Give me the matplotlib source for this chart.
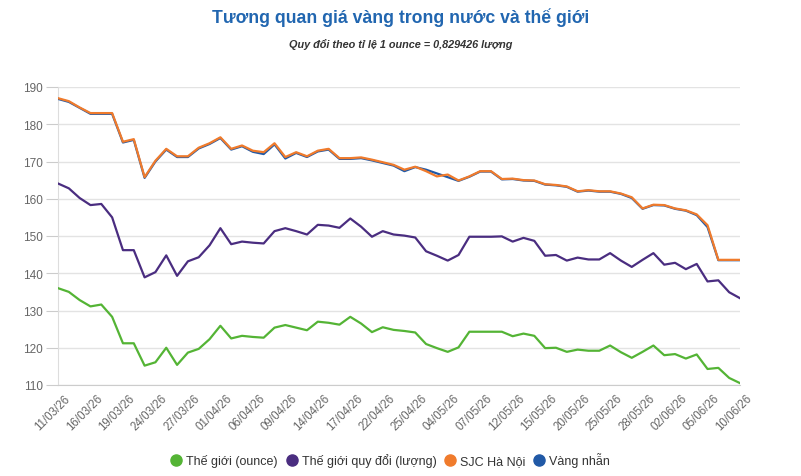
import matplotlib
matplotlib.use("Agg")
import matplotlib.pyplot as plt
from matplotlib.lines import Line2D
import matplotlib.transforms as mtransforms

plt.rcParams['font.family'] = ['Liberation Sans', 'DejaVu Sans']

tick_labels = ["11/03/26", "16/03/26", "19/03/26", "24/03/26", "27/03/26", "01/04/26",
               "06/04/26", "09/04/26", "14/04/26", "17/04/26", "22/04/26", "25/04/26",
               "04/05/26", "07/05/26", "12/05/26", "15/05/26", "20/05/26", "25/05/26",
               "28/05/26", "02/06/26", "05/06/26", "10/06/26"]

the_gioi = [136.0, 135.0, 132.8, 131.1, 131.6, 128.3, 121.2, 121.2, 115.2, 116.1,
            120.0, 115.4, 118.7, 119.7, 122.3, 125.9, 122.5, 123.2, 122.9, 122.7,
            125.4, 126.1, 125.4, 124.7, 127.0, 126.7, 126.2, 128.3, 126.5, 124.2,
            125.5, 124.8, 124.5, 124.1, 121.0, 119.9, 118.9, 120.1, 124.3, 124.3,
            124.3, 124.3, 123.1, 123.8, 123.2, 119.9, 120.0, 118.9, 119.5, 119.2,
            119.2, 120.6, 118.8, 117.3, 118.9, 120.6, 118.0, 118.3, 117.1, 118.2,
            114.3, 114.6, 111.9, 110.5]

the_gioi_quy_doi = [164.1, 162.8, 160.2, 158.3, 158.6, 155.0, 146.2, 146.2, 138.9, 140.3,
                    144.8, 139.3, 143.2, 144.3, 147.5, 152.1, 147.8, 148.5, 148.2, 148.0,
                    151.3, 152.1, 151.3, 150.4, 153.0, 152.8, 152.2, 154.7, 152.5, 149.8,
                    151.3, 150.4, 150.1, 149.6, 145.9, 144.7, 143.4, 144.9, 149.8, 149.8,
                    149.8, 149.9, 148.5, 149.5, 148.7, 144.7, 144.9, 143.4, 144.2, 143.7,
                    143.7, 145.4, 143.4, 141.7, 143.6, 145.4, 142.3, 142.8, 141.1, 142.5,
                    137.8, 138.1, 134.9, 133.3]

sjc_ha_noi = [187.0, 186.2, 184.5, 183.0, 183.0, 183.0, 175.3, 176.0, 165.8, 170.2,
              173.4, 171.4, 171.4, 173.7, 174.9, 176.5, 173.4, 174.3, 172.9, 172.5,
              174.9, 171.2, 172.5, 171.4, 172.9, 173.4, 170.9, 170.9, 171.1, 170.5,
              169.8, 169.1, 167.8, 168.6, 167.4, 166.0, 166.5, 164.9, 166.0, 167.4,
              167.4, 165.3, 165.4, 165.0, 164.9, 163.9, 163.7, 163.3, 162.0, 162.3,
              162.0, 162.0, 161.4, 160.4, 157.4, 158.4, 158.3, 157.4, 156.9, 155.8,
              152.9, 143.6, 143.6, 143.6]

vang_nhan = [186.8, 186.0, 184.4, 182.8, 182.8, 182.8, 175.1, 175.8, 165.6, 170.0,
             173.2, 171.2, 171.2, 173.5, 174.7, 176.3, 173.2, 174.1, 172.6, 172.0,
             174.6, 170.8, 172.3, 171.2, 172.7, 173.2, 170.7, 170.7, 170.9, 170.3,
             169.6, 168.9, 167.4, 168.5, 167.8, 166.8, 165.8, 164.8, 165.9, 167.3,
             167.3, 165.2, 165.3, 164.9, 164.8, 163.8, 163.6, 163.2, 161.9, 162.2,
             161.9, 161.9, 161.3, 160.2, 157.3, 158.3, 158.2, 157.3, 156.8, 155.6,
             152.4, 143.5, 143.5, 143.5]

series_names = ["Thế giới (ounce)", "Thế giới quy đổi (lượng)", "SJC Hà Nội", "Vàng nhẫn"]
colors = ["#54b435", "#4a2d80", "#f07b2c", "#2159a6"]

W, H = 801, 477
fig = plt.figure(figsize=(W / 100, H / 100), dpi=100)
x0, x1 = 58, 740
y0, y1 = 88, 386
ax = fig.add_axes([x0 / W, 1 - y1 / H, (x1 - x0) / W, (y1 - y0) / H])

xs = list(range(len(the_gioi)))
data = [the_gioi, the_gioi_quy_doi, sjc_ha_noi, vang_nhan]
zorders = [3, 3, 5, 4]
for vals, c, z in zip(data, colors, zorders):
    ax.plot(xs, vals, color=c, lw=1.6, zorder=z, solid_joinstyle='round')

ax.set_xlim(0, len(xs) - 1)
ax.set_ylim(110, 190)
ax.set_yticks(range(110, 191, 10))
ax.yaxis.grid(True, color="#e3e3e3", lw=1)
ax.set_axisbelow(True)
tick_pos = [i * 3 for i in range(len(tick_labels))]
ax.set_xticks(tick_pos)
ax.set_xticklabels(tick_labels, rotation=45, ha='right', va='top',
                   rotation_mode='anchor', color="#666666", fontsize=8.3)
ax.tick_params(axis='x', length=0, pad=5)
shift = mtransforms.ScaledTranslation(6 / 100, 0, fig.dpi_scale_trans)
for lab in ax.get_xticklabels():
    lab.set_transform(lab.get_transform() + shift)
ax.tick_params(axis='y', length=9, color="#cccccc", labelcolor="#666666",
               labelsize=8.5, pad=2)
for s in ["top", "right"]:
    ax.spines[s].set_visible(False)
ax.spines["left"].set_color("#dddddd")
ax.spines["bottom"].set_color("#cccccc")

fig.text(0.5, 1 - 18 / H, "Tương quan giá vàng trong nước và thế giới",
         ha='center', va='center', fontsize=12.7, fontweight='bold', color="#2166b0")
fig.text(0.5, 1 - 45 / H, "Quy đổi theo tỉ lệ 1 ounce = 0,829426 lượng",
         ha='center', va='center', fontsize=7.8, fontweight='bold', style='italic',
         color="#333333")

handles = [Line2D([], [], marker='o', ls='none', markersize=8, markerfacecolor=c,
                  markeredgecolor=c) for c in colors]
fig.legend(handles, series_names, loc='center', bbox_to_anchor=(0.487, 1 - 461 / H),
           ncol=4, frameon=False, fontsize=9, labelcolor="#333333",
           handletextpad=0.3, columnspacing=0.6, handlelength=1.0)

fig.savefig("out.png", dpi=100)
